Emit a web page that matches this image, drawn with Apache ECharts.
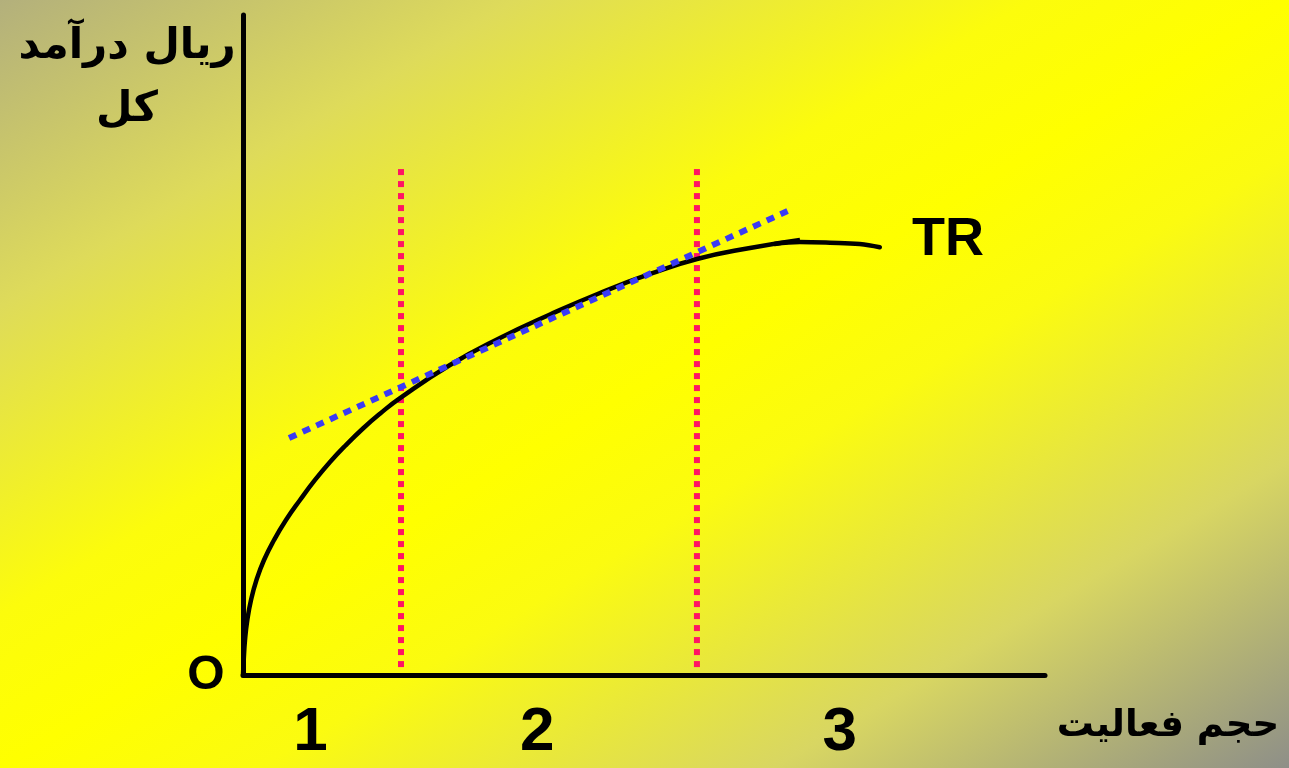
<!DOCTYPE html>
<html>
<head>
<meta charset="utf-8">
<script src="https://cdn.jsdelivr.net/npm/echarts@6/dist/echarts.min.js"></script>
<style>
  html, body { margin: 0; padding: 0; }
  #chart { width: 1289px; height: 768px; }
</style>
</head>
<body>
<div id="chart"></div>
<script>
// Total revenue (TR) curve: activity volume vs. total revenue
const trX = [0, 0.09, 0.25, 0.54, 1.00, 1.68, 2.62, 3.87, 5.36, 7.11, 8.98, 10.85, 12.72, 14.96,
             17.08, 19.58, 25.81, 32.04, 38.28, 44.51, 50.75, 56.61, 63.22, 69.45];
const trY = [0, 2.27, 5.30, 8.33, 11.36, 14.39, 17.42, 20.45, 23.48, 26.52, 29.55, 32.27, 34.70, 37.35,
             39.59, 41.95, 46.97, 51.06, 54.62, 57.88, 60.76, 63.03, 64.70, 65.91];
// flattening tail of TR
const tailX = [66.3, 69.45, 73.2, 76.9, 79.4];
const tailY = [65.3, 65.6, 65.5, 65.3, 64.8];
// tangent (blue dotted) end points
const tangentX = [5.74, 67.9];
const tangentY = [35.9, 70.3];
// zone boundaries (red dotted verticals)
const boundaryX = [19.7, 56.6];
const boundaryY = [1.2, 77.0];
// zone numbers below the horizontal axis
const zoneLabels = ['1', '2', '3'];
const zoneX = [8.4, 36.7, 74.4];
// texts
const yTitle = ['ریال درآمد', 'کل'];
const xTitle = 'حجم فعالیت';
const originLabel = 'O';
const curveLabel = 'TR';

const pairs = (xs, ys) => xs.map((x, i) => [x, ys[i]]);

const chart = echarts.init(document.getElementById('chart'), null, { renderer: 'canvas' });

const series = [
  {
    type: 'line', data: pairs(trX, trY), smooth: 0.5,
    symbol: 'none', lineStyle: { color: '#000', width: 4.5 }, z: 5
  },
  {
    type: 'line', data: pairs(tailX, tailY), smooth: 0.4,
    symbol: 'none', lineStyle: { color: '#000', width: 4.5, cap: 'round' }, z: 5
  },
  {
    type: 'line', data: pairs(tangentX, tangentY),
    symbol: 'none', lineStyle: { color: '#3a3af5', width: 6, type: [8, 7], cap: 'butt' }, z: 6
  }
];
boundaryX.forEach(bx => {
  series.push({
    type: 'line', data: [[bx, boundaryY[0]], [bx, boundaryY[1]]],
    symbol: 'none', lineStyle: { color: '#ff1464', width: 6, type: [6, 6], cap: 'butt' }, z: 4
  });
});

const bgFill = {
  type: 'linear', x: 0.238, y: -0.238, x2: 0.762, y2: 1.238,
  colorStops: [
    { offset: 0, color: '#b3b07c' },
    { offset: 0.2, color: '#dedb5a' },
    { offset: 0.4, color: '#fcfc0c' },
    { offset: 0.5, color: '#ffff00' },
    { offset: 0.6, color: '#fbfb10' },
    { offset: 0.8, color: '#d8d662' },
    { offset: 1, color: '#8e8f88' }
  ]
};

chart.setOption({
  animation: false,
  grid: { left: 243, top: 15, width: 802, height: 660 },
  xAxis: {
    type: 'value', min: 0, max: 100,
    axisLine: { show: true, lineStyle: { color: '#000', width: 5 } },
    axisTick: { show: false }, axisLabel: { show: false }, splitLine: { show: false }
  },
  yAxis: {
    type: 'value', min: 0, max: 100,
    axisLine: { show: true, lineStyle: { color: '#000', width: 5 } },
    axisTick: { show: false }, axisLabel: { show: false }, splitLine: { show: false }
  },
  series: series
});

function txt(x, y, text, size, family) {
  return {
    type: 'text', x: x, y: y, z: 10,
    style: {
      text: text, fontSize: size, fontFamily: family, fontWeight: 'bold',
      fill: '#000', align: 'center', verticalAlign: 'middle'
    }
  };
}
const arabicFont = '"DejaVu Sans", sans-serif';
const latinFont = '"Liberation Sans", Arial, sans-serif';
const graphics = [
  { type: 'rect', z: -100, silent: true, shape: { x: 0, y: 0, width: 1289, height: 768 }, style: { fill: bgFill } },
  txt(127, 47, yTitle[0], 42, arabicFont),
  txt(127, 110, yTitle[1], 42, arabicFont),
  txt(1168, 726, xTitle, 37, arabicFont),
  txt(206, 676, originLabel, 48, latinFont),
  txt(948, 240, curveLabel, 54, latinFont)
];
zoneLabels.forEach((t, i) => {
  const px = chart.convertToPixel({ xAxisIndex: 0 }, zoneX[i]);
  graphics.push(txt(px, 733, t, 62, latinFont));
});
chart.setOption({ graphic: graphics });
</script>
</body>
</html>
